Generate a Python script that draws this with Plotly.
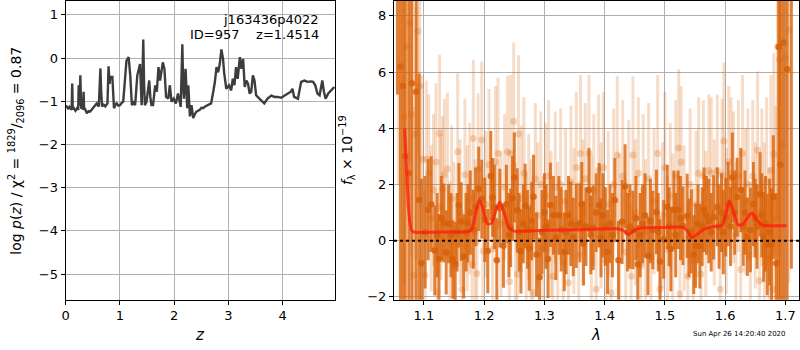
import plotly.graph_objects as go

# ---------------- left panel: log p(z) ----------------
PZ_Z = [0.00, 0.02, 0.05, 0.07, 0.09, 0.11, 0.12, 0.13, 0.15, 0.18, 0.21, 0.23, 0.24, 0.255, 0.27, 0.285, 0.30,
        0.32, 0.33, 0.34, 0.35, 0.39, 0.42, 0.45, 0.48, 0.51, 0.54, 0.57, 0.61, 0.625, 0.64, 0.655, 0.67, 0.70,
        0.73, 0.77, 0.79, 0.81, 0.82, 0.86, 0.875, 0.89, 0.92, 0.94, 0.97, 1.00, 1.03, 1.06, 1.08, 1.10,
        1.12, 1.16, 1.19, 1.22, 1.25, 1.28, 1.31, 1.32, 1.37, 1.385, 1.40, 1.415, 1.43, 1.445, 1.46, 1.49,
        1.54, 1.56, 1.58, 1.61, 1.65, 1.68, 1.71, 1.74, 1.79, 1.82, 1.85, 1.89, 1.92, 1.95, 1.99, 2.03,
        2.07, 2.12, 2.135, 2.15, 2.165, 2.18, 2.21, 2.24, 2.26, 2.29, 2.32, 2.35, 2.38, 2.41, 2.44, 2.47,
        2.50, 2.53, 2.57, 2.62, 2.68, 2.72, 2.75, 2.78, 2.81, 2.84, 2.87, 2.90, 2.92, 2.96, 3.01, 3.05,
        3.08, 3.11, 3.14, 3.17, 3.21, 3.24, 3.27, 3.30, 3.33, 3.36, 3.39, 3.42, 3.45, 3.48, 3.51, 3.57,
        3.63, 3.66, 3.72, 3.79, 3.85, 3.91, 3.97, 4.03, 4.09, 4.15, 4.18, 4.21, 4.28, 4.34, 4.40, 4.46,
        4.52, 4.56, 4.60, 4.64, 4.68, 4.73, 4.76, 4.79, 4.84, 4.89, 4.95]
PZ_LOGP = [-1.10, -1.12, -1.18, -1.13, -1.16, -1.20, -0.59, -1.18, -1.16, -1.22, -1.16, -1.20, -0.63, -1.10,
           -0.40, -1.15, -1.16, -1.18, -0.78, -1.20, -1.16, -1.28, -1.23, -1.24, -1.19, -1.16, -1.10, -1.05,
           -1.12, -0.70, -0.24, -0.80, -1.12, -1.08, -1.12, -1.05, -0.19, -0.60, -0.44, -0.44, -1.00, -1.16,
           -1.07, -1.05, -1.10, -1.09, -1.04, -1.01, -0.70, -0.25, -0.06, 0.02, -0.40, -1.09, -1.03, -1.09,
           -0.70, -0.40, -0.14, -0.60, -1.09, -0.50, 0.43, -0.60, -1.09, -1.01, -0.52, -0.90, -1.09, -1.09,
           -0.63, -0.78, -0.21, -0.52, -0.10, -0.25, -0.90, -0.94, -0.63, -1.01, -0.94, -1.05, -0.82, -1.13,
           -0.50, 0.32, -0.60, -0.94, -0.25, -1.16, -0.63, -1.35, -1.09, -1.39, -1.30, -1.24, -1.22, -1.20,
           -1.15, -1.16, -1.12, -1.09, -1.05, -0.78, -0.55, -0.21, -0.33, -0.14, 0.20, -0.02, -0.33, -0.71,
           -0.63, -0.75, -0.48, -0.63, -0.21, -0.48, 0.02, -0.25, -0.02, -0.67, -0.52, -0.59, -0.82, -0.78,
           -0.40, -0.52, -0.86, -0.94, -1.01, -1.05, -0.94, -0.87, -0.90, -0.90, -0.92, -0.87, -0.82, -0.78,
           -0.71, -0.90, -0.94, -0.55, -0.52, -0.55, -0.54, -0.55, -0.63, -0.82, -0.86, -0.52, -0.78, -0.94,
           -0.82, -0.75, -0.67]

# ---------------- right panel: spectrum ----------------
# binned (dark) points: wavelength, flux, error
DARK_WAVE = [1.056, 1.061, 1.065, 1.069, 1.075, 1.080, 1.087, 1.092, 1.096, 1.102, 1.107, 1.112, 1.118, 1.122,
             1.125, 1.129, 1.133, 1.137, 1.141, 1.145, 1.148, 1.152, 1.155, 1.158, 1.162, 1.166, 1.170, 1.173,
             1.177, 1.182, 1.186, 1.191, 1.196, 1.201, 1.206, 1.211, 1.214, 1.217, 1.221, 1.226, 1.232, 1.237,
             1.241, 1.244, 1.247, 1.250, 1.255, 1.258, 1.261, 1.265, 1.268, 1.272, 1.275, 1.279, 1.282, 1.287,
             1.292, 1.296, 1.300, 1.303, 1.306, 1.310, 1.315, 1.319, 1.324, 1.328, 1.333, 1.336, 1.340, 1.344,
             1.348, 1.353, 1.359, 1.362, 1.365, 1.369, 1.374, 1.377, 1.381, 1.386, 1.391, 1.394, 1.397, 1.401,
             1.405, 1.409, 1.413, 1.417, 1.423, 1.429, 1.434, 1.438, 1.442, 1.447, 1.452, 1.455, 1.459, 1.463,
             1.467, 1.472, 1.476, 1.480, 1.486, 1.489, 1.492, 1.498, 1.504, 1.507, 1.510, 1.515, 1.518, 1.522,
             1.526, 1.530, 1.537, 1.540, 1.544, 1.548, 1.551, 1.555, 1.558, 1.562, 1.565, 1.569, 1.573, 1.577,
             1.581, 1.587, 1.590, 1.594, 1.597, 1.601, 1.605, 1.609, 1.612, 1.616, 1.620, 1.626, 1.630, 1.633,
             1.637, 1.642, 1.647, 1.650, 1.653, 1.658, 1.661, 1.664, 1.667, 1.670, 1.674, 1.677, 1.680, 1.685,
             1.689, 1.692, 1.697, 1.703, 1.710]
DARK_FLUX = [12.0, 6.2, 5.5, 3.0, 2.4, 5.6, 5.3, 1.45, -0.8, 0.3, 1.1, 1.3, -0.35, 0.2,
             -0.65, 0.8, 0.63, -0.42, 0.6, 0.2, -0.67, -0.84, 0.3, 1.26, 0.68, -0.56, 0.3, 0.62,
             1.0, 0.4, 1.2, 1.84, 1.48, 0.74, -0.37, 2.3, 1.54, 1.2, -0.7, 1.16, -0.18, 1.3,
             0.2, 0.46, 1.5, 2.25, 1.08, 0.3, -0.38, 0.6, 1.24, 0.4, -0.28, 0.7, 1.56, -0.5,
             -1.3, 0.3, 1.0, 0.5, -0.65, 1.27, 0.9, 0.1, 0.9, 0.4, -0.4, 0.3, 0.9, 0.6,
             0.13, 0.53, 0.63, 1.3, -0.1, 0.5, 1.8, 0.2, 0.46, 1.0, 1.26, 0.1, 0.9, 0.5,
             -0.4, 0.6, 0.2, 1.44, -0.7, 0.67, 1.93, 0.3, 0.5, 0.38, 0.8, -0.84, 0.2, 0.6,
             0.9, -0.54, 0.7, 0.38, 1.02, 0.3, -0.74, 0.04, 1.2, 0.5, -0.3, 1.1, 0.2, 1.1,
             0.8, 0.53, 0.88, 0.1, 0.33, -0.5, -0.18, 0.6, -0.2, 0.5, 1.1, 0.9, 0.7, 0.3,
             0.83, 1.2, 0.5, 1.0, 0.3, 0.84, 1.3, 0.5, 2.25, 1.0, 1.55, 1.8, 0.5, 1.0,
             0.14, 0.38, 1.3, 0.8, 0.5, 1.65, 0.9, 0.14, 0.6, -0.14, 0.3, -0.14, 1.55, -0.8,
             6.9, 2.7, 7.05, 6.1, 9.0]
DARK_ERR = [6.8, 10, 10, 10, 10, 10, 9, 4.5, 3.0, 2.0, 1.8, 1.7, 1.6, 1.5,
            1.6, 1.5, 1.4, 1.5, 1.4, 1.5, 1.4, 1.5, 1.4, 1.5, 1.4, 1.5, 1.4, 1.4,
            1.5, 1.4, 1.4, 1.5, 1.4, 1.5, 1.5, 1.6, 1.4, 1.5, 1.5, 1.4, 1.5, 1.4,
            1.5, 1.4, 1.5, 1.6, 1.5, 1.4, 1.5, 1.4, 1.5, 1.4, 1.5, 1.4, 1.5, 1.5,
            1.4, 1.5, 1.4, 1.5, 1.4, 1.5, 1.4, 1.5, 1.4, 1.5, 1.4, 1.5, 1.4, 1.5,
            1.4, 1.5, 1.4, 1.5, 1.5, 1.4, 1.5, 1.4, 1.5, 1.4, 1.5, 1.4, 1.5, 1.4,
            1.5, 1.4, 1.5, 1.5, 1.4, 1.5, 1.5, 1.4, 1.5, 1.4, 1.5, 1.4, 1.5, 1.4,
            1.5, 1.4, 1.5, 1.4, 1.5, 1.4, 1.5, 1.4, 1.5, 1.4, 1.5, 1.4, 1.5, 1.4,
            1.5, 1.4, 1.5, 1.4, 1.5, 1.4, 1.5, 1.4, 1.5, 1.4, 1.5, 1.4, 1.5, 1.4,
            1.5, 1.4, 1.5, 1.4, 1.5, 1.4, 1.5, 1.4, 1.6, 1.5, 1.4, 1.5, 1.4, 1.5,
            1.4, 1.5, 1.5, 1.4, 1.5, 1.5, 1.5, 1.6, 1.7, 1.8, 1.9, 2.0, 2.2, 2.5,
            10, 10, 10, 10, 10]

# full-resolution (light) points: wavelength, flux, error
LIGHT_WAVE = [1.058, 1.067, 1.072, 1.077, 1.079, 1.083, 1.087, 1.090, 1.093, 1.097, 1.102, 1.104, 1.108, 1.112,
              1.116, 1.120, 1.122, 1.126, 1.128, 1.131, 1.134, 1.139, 1.143, 1.146, 1.150, 1.156, 1.160, 1.163,
              1.168, 1.172, 1.176, 1.180, 1.182, 1.185, 1.188, 1.190, 1.196, 1.198, 1.203, 1.208, 1.214, 1.219,
              1.223, 1.228, 1.234, 1.239, 1.242, 1.244, 1.249, 1.252, 1.255, 1.257, 1.262, 1.266, 1.270, 1.274,
              1.278, 1.281, 1.285, 1.289, 1.294, 1.298, 1.302, 1.307, 1.311, 1.314, 1.318, 1.322, 1.327, 1.331,
              1.335, 1.340, 1.344, 1.349, 1.353, 1.357, 1.360, 1.364, 1.368, 1.374, 1.378, 1.382, 1.386, 1.390,
              1.394, 1.398, 1.402, 1.406, 1.411, 1.415, 1.421, 1.425, 1.430, 1.435, 1.440, 1.444, 1.447, 1.451,
              1.456, 1.460, 1.464, 1.468, 1.473, 1.477, 1.482, 1.488, 1.492, 1.496, 1.500, 1.504, 1.509, 1.513,
              1.518, 1.523, 1.525, 1.527, 1.532, 1.538, 1.542, 1.547, 1.552, 1.556, 1.560, 1.564, 1.568, 1.573,
              1.577, 1.582, 1.587, 1.592, 1.595, 1.598, 1.602, 1.606, 1.610, 1.614, 1.618, 1.622, 1.626, 1.629,
              1.634, 1.638, 1.642, 1.646, 1.650, 1.654, 1.657, 1.661, 1.665, 1.669, 1.673, 1.676, 1.679, 1.681,
              1.684, 1.687, 1.690, 1.695, 1.700, 1.706]
LIGHT_FLUX = [10.0, 4.4, 6.9, 7.75, 4.5, -1.23, 3.8, 7.45, 5.5, 2.9, -1.23, 2.9, 2.4, 0.8,
              1.8, 2.8, -1.83, 3.82, 1.2, 1.83, 2.35, 2.56, -0.5, 1.5, 0.3, 3.16, 1.0, -1.73,
              2.35, 0.8, 1.5, -0.85, 3.64, 0.3, -1.17, 2.55, 3.58, -0.37, 1.3, 2.7, -0.3, 2.8,
              3.1, 0.6, 1.9, 3.16, -1.45, 3.1, 4.25, 0.2, -1.2, 3.8, 1.5, 2.4, -0.2, 1.2,
              0.4, -1.85, 2.2, 0.9, 2.0, -0.3, 1.6, 2.3, 0.6, -1.27, 1.9, 0.2, 2.0, -0.8,
              1.4, -1.5, 2.1, 0.7, 2.6, -0.5, 3.1, 1.0, 2.2, 3.1, 0.4, 1.8, -1.73, 2.5,
              0.9, 2.6, -0.7, 1.3, -1.85, 2.0, 3.05, 0.5, 2.3, -0.4, 1.7, -1.27, 3.05, 1.0,
              2.4, -0.9, 1.8, 0.3, 2.2, -0.6, 1.4, 3.1, -1.73, 0.9, 2.6, -0.3, 1.6, 0.5,
              2.3, 3.3, -1.9, 2.8, 0.8, -1.27, 2.0, -0.7, 1.3, 2.4, -1.2, 2.3, 0.6, 2.5,
              2.4, 1.0, 2.5, -1.73, 2.35, 3.55, 0.7, 2.8, 2.4, 1.9, 0.2, 2.3, -1.03, 3.1,
              1.4, 2.0, -0.5, 2.3, 0.9, 3.22, -1.43, 1.9, 0.6, 2.1, -0.6, 2.5, -1.73, 3.07,
              0.8, 6.9, 6.45, 3.4, 6.5, 7.5]
LIGHT_ERR = [8, 6, 5, 5, 5, 6, 4.5, 4.5, 4, 3.0, 3.0, 2.8, 2.8, 2.6,
             2.7, 2.8, 2.6, 2.8, 2.6, 2.6, 2.7, 2.7, 2.6, 2.6, 2.5, 2.8, 2.6, 2.6,
             2.7, 2.6, 2.7, 2.7, 2.8, 2.6, 2.6, 2.7, 2.8, 2.6, 2.6, 2.7, 2.6, 2.7,
             2.7, 2.6, 2.6, 2.7, 2.6, 2.8, 2.8, 2.6, 2.6, 2.8, 2.6, 2.7, 2.6, 2.6,
             2.5, 2.6, 2.7, 2.6, 2.6, 2.6, 2.6, 2.7, 2.6, 2.6, 2.7, 2.6, 2.7, 2.6,
             2.6, 2.6, 2.7, 2.6, 2.7, 2.6, 2.8, 2.6, 2.7, 2.8, 2.6, 2.7, 2.6, 2.7,
             2.6, 2.7, 2.6, 2.6, 2.6, 2.7, 2.8, 2.6, 2.7, 2.6, 2.6, 2.6, 2.8, 2.6,
             2.7, 2.6, 2.7, 2.6, 2.7, 2.6, 2.6, 2.8, 2.6, 2.6, 2.7, 2.6, 2.6, 2.6,
             2.7, 2.8, 2.6, 2.7, 2.6, 2.6, 2.7, 2.6, 2.6, 2.7, 2.6, 2.7, 2.6, 2.7,
             2.7, 2.6, 2.7, 2.6, 2.7, 2.8, 2.6, 2.7, 2.7, 2.7, 2.6, 2.7, 2.6, 2.8,
             2.6, 2.7, 2.6, 2.7, 2.6, 2.8, 2.6, 2.8, 2.9, 3.0, 3.2, 3.4, 3.6, 3.6,
             4, 6, 7, 8, 9, 9]

# best-fit model (red)
MODEL_WAVE = [1.068, 1.071, 1.074, 1.077, 1.080, 1.085, 1.130, 1.175, 1.180, 1.186, 1.192, 1.198, 1.205,
              1.212, 1.220, 1.226, 1.232, 1.240, 1.248, 1.300, 1.360, 1.420, 1.432, 1.440, 1.448, 1.460,
              1.500, 1.530, 1.537, 1.545, 1.552, 1.565, 1.580, 1.595, 1.602, 1.607, 1.613, 1.622, 1.630,
              1.640, 1.645, 1.652, 1.662, 1.680, 1.702]
MODEL_FLUX = [4.0, 2.6, 1.3, 0.6, 0.35, 0.30, 0.31, 0.33, 0.45, 1.0, 1.45, 1.15, 0.6,
              0.62, 1.1, 1.38, 1.1, 0.5, 0.35, 0.37, 0.39, 0.42, 0.35, 0.22, 0.35, 0.45,
              0.47, 0.47, 0.35, 0.12, 0.2, 0.4, 0.5, 0.55, 1.0, 1.42, 1.1, 0.55, 0.6,
              0.9, 0.98, 0.75, 0.55, 0.53, 0.53]

TICKS_Z = [0, 1, 2, 3, 4]
TICKS_LOGP = [-5, -4, -3, -2, -1, 0, 1]
TICKS_WAVE = [1.1, 1.2, 1.3, 1.4, 1.5, 1.6, 1.7]
TICKS_FLUX = [-2, 0, 2, 4, 6, 8]

FONT = "DejaVu Sans"
W, H = 800, 350

fig = go.Figure()

fig.add_trace(go.Scatter(
    x=PZ_Z, y=PZ_LOGP, mode="lines", xaxis="x", yaxis="y",
    line=dict(color="#3d3d3d", width=2.4), showlegend=False, hoverinfo="skip"))

fig.add_trace(go.Scatter(
    x=LIGHT_WAVE, y=LIGHT_FLUX, mode="markers", xaxis="x2", yaxis="y2",
    marker=dict(color="rgba(217,95,2,0.25)", size=7, line=dict(width=0)),
    error_y=dict(type="data", array=LIGHT_ERR, visible=True, thickness=3, width=0,
                 color="rgba(217,95,2,0.22)"),
    showlegend=False, hoverinfo="skip"))

fig.add_trace(go.Scatter(
    x=DARK_WAVE, y=DARK_FLUX, mode="markers", xaxis="x2", yaxis="y2",
    marker=dict(color="rgba(214,96,10,0.85)", size=6.5, line=dict(width=0)),
    error_y=dict(type="data", array=DARK_ERR, visible=True, thickness=3, width=0,
                 color="rgba(217,95,2,0.78)"),
    showlegend=False, hoverinfo="skip"))

fig.add_trace(go.Scatter(
    x=MODEL_WAVE, y=MODEL_FLUX, mode="lines", xaxis="x2", yaxis="y2",
    line=dict(color="rgba(255,25,15,0.75)", width=3, shape="spline", smoothing=0.6),
    showlegend=False, hoverinfo="skip"))

axis_common = dict(
    showline=True, linecolor="black", linewidth=1.2, mirror=True,
    showgrid=True, gridcolor="#b0b0b0", gridwidth=1, zeroline=False,
    ticks="outside", ticklen=4, tickcolor="black", tickwidth=1,
    tickfont=dict(family=FONT, size=13, color="black"))

fig.update_layout(
    width=W, height=H, margin=dict(l=0, r=0, t=0, b=0),
    paper_bgcolor="white", plot_bgcolor="white",
    font=dict(family=FONT, color="black"),
    xaxis=dict(domain=[62 / W, 333 / W], range=[0, 4.97], tickvals=TICKS_Z,
               anchor="y", **axis_common),
    yaxis=dict(domain=[1 - 304 / H, 1 - 1 / H], range=[-5.59, 1.32], tickvals=TICKS_LOGP,
               anchor="x", **axis_common),
    xaxis2=dict(domain=[392 / W, 799 / W], range=[1.0504, 1.7227], tickvals=TICKS_WAVE,
                anchor="y2", **axis_common),
    yaxis2=dict(domain=[1 - 304 / H, 1 - 1 / H], range=[-2.1, 8.53], tickvals=TICKS_FLUX,
                anchor="x2", **axis_common),
)

# zero line on the spectrum panel
fig.add_shape(type="line", xref="x2 domain", yref="y2", x0=0, x1=1, y0=0, y1=0,
              line=dict(color="black", width=2, dash="dot"), layer="above")

ann = [
    dict(text="j163436p4022", x=319 / W, y=1 - 20 / H, xanchor="right", yanchor="middle",
         font=dict(size=13)),
    dict(text="ID=957    z=1.4514", x=319 / W, y=1 - 35 / H, xanchor="right", yanchor="middle",
         font=dict(size=13)),
    dict(text="<i>z</i>", x=197 / W, y=1 - 340 / H, xanchor="center", yanchor="middle",
         font=dict(size=15)),
    dict(text="<i>λ</i>", x=595 / W, y=1 - 340 / H, xanchor="center", yanchor="middle",
         font=dict(size=15)),
    dict(text="log <i>p</i>(<i>z</i>) / χ<sup>2</sup> = <sup>1829</sup>/<sub>2096</sub> = 0.87",
         x=12 / W, y=1 - 153 / H, xanchor="center", yanchor="middle", textangle=-90,
         font=dict(size=14)),
    dict(text="<i>f</i><sub>λ</sub> × 10<sup>−19</sup>",
         x=345 / W, y=1 - 152 / H, xanchor="center", yanchor="middle", textangle=-90,
         font=dict(size=14)),
    dict(text="Sun Apr 26 14:20:40 2020", x=788 / W, y=1 - 339 / H, xanchor="right",
         yanchor="middle", font=dict(size=7)),
]
for a in ann:
    a.update(xref="paper", yref="paper", showarrow=False)
    a["font"] = dict(family=FONT, color="black", **a["font"])
    fig.add_annotation(**a)

fig.write_html("out.html", config={"displayModeBar": False},
               post_script="document.body.style.margin='0px';"
               "document.body.style.overflow='hidden';")
